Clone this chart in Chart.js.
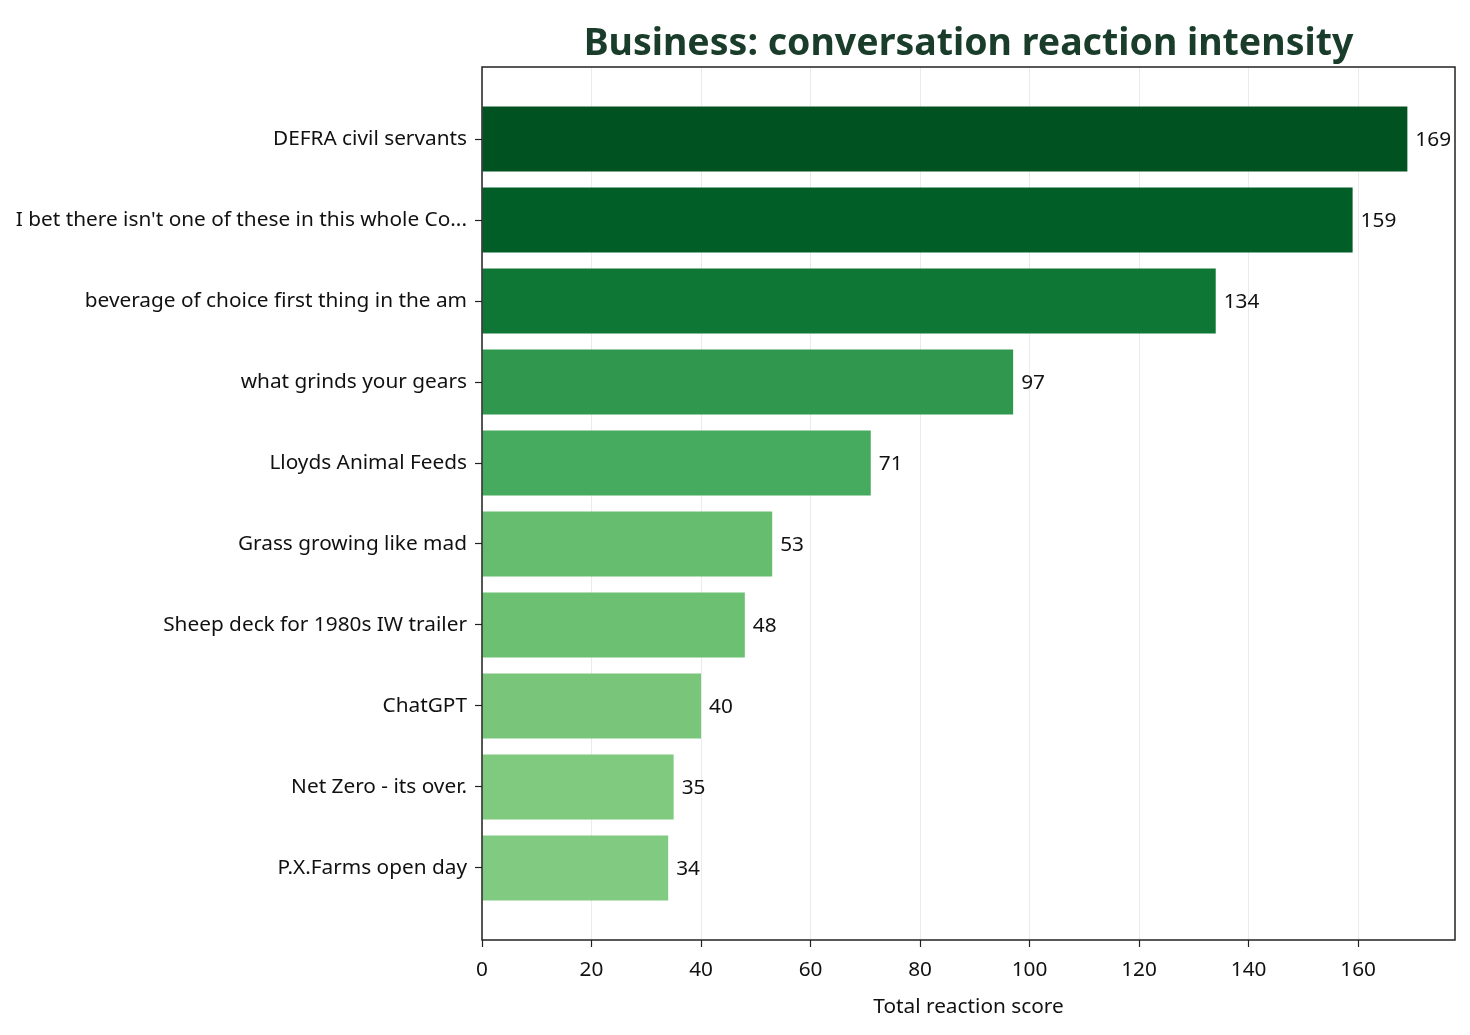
<!DOCTYPE html>
<html>
<head>
<meta charset="utf-8">
<script src="https://cdn.jsdelivr.net/npm/chart.js@4/dist/chart.umd.min.js"></script>
<style>
html,body{margin:0;padding:0;background:#fff;}
canvas{display:block;}
</style>
</head>
<body>
<canvas id="chart" width="1470" height="1035"></canvas>
<script>
const categories = [
  "DEFRA civil servants",
  "I bet there isn't one of these in this whole Co...",
  "beverage of choice first thing in the am",
  "what grinds your gears",
  "Lloyds Animal Feeds",
  "Grass growing like mad",
  "Sheep deck for 1980s IW trailer",
  "ChatGPT",
  "Net Zero - its over.",
  "P.X.Farms open day"
];
const scores = [169, 159, 134, 97, 71, 53, 48, 40, 35, 34];
const barColors = ["#005221", "#005e26", "#0e7735", "#2f974e", "#47ab5f", "#66bd6f", "#6bc072", "#79c67a", "#7fca7f", "#81ca81"];
const xTicks = [0, 20, 40, 60, 80, 100, 120, 140, 160];

const FONT = "'Noto Sans', 'DejaVu Sans', sans-serif";
const TXT = 20.8;

const ctx = document.getElementById("chart").getContext("2d");

// title, value labels, axis label and frame
const extras = {
  id: "extras",
  afterDatasetsDraw(chart){
    const c = chart.ctx;
    const meta = chart.getDatasetMeta(0);
    c.save();
    c.font = TXT + "px " + FONT;
    c.fillStyle = "#111";
    c.textBaseline = "middle";
    c.textAlign = "left";
    meta.data.forEach((bar, i) => {
      c.fillText(String(scores[i]), bar.x + 8, bar.y + 1);
    });
    c.restore();
  },
  afterDraw(chart){
    const c = chart.ctx;
    const a = chart.chartArea;
    c.save();
    c.strokeStyle = "#222";
    c.lineWidth = 1.5;
    c.strokeRect(a.left, a.top, a.right - a.left, a.bottom - a.top);

    c.fillStyle = "#1a3d2b";
    c.font = "bold 37.5px " + FONT;
    c.textAlign = "center";
    c.textBaseline = "middle";
    c.fillText("Business: conversation reaction intensity", (a.left + a.right) / 2, 44);

    c.fillStyle = "#111";
    c.font = TXT + "px " + FONT;
    c.fillText("Total reaction score", (a.left + a.right) / 2, 1007);
    c.restore();
  }
};

new Chart(ctx, {
  type: "bar",
  data: {
    datasets: [{
      data: scores.map((s, i) => ({x: s, y: i})),
      backgroundColor: barColors,
      borderWidth: 0,
      categoryPercentage: 1,
      barPercentage: 0.8
    }]
  },
  options: {
    indexAxis: "y",
    responsive: false,
    devicePixelRatio: 1,
    animation: false,
    layout: {padding: {top: 67, right: 15, left: 0, bottom: 0}},
    plugins: {legend: {display: false}, tooltip: {enabled: false}},
    scales: {
      x: {
        type: "linear",
        min: 0,
        max: 177.7,
        z: 1,
        afterBuildTicks: s => { s.ticks = xTicks.map(v => ({value: v})); },
        afterFit: s => { s.height = 95; },
        grid: {
          color: "rgba(190,190,190,0.3)",
          lineWidth: 1,
          tickColor: "#222",
          tickLength: 7,
          tickWidth: 1.2
        },
        border: {display: false},
        ticks: {font: {family: FONT, size: TXT}, color: "#111", padding: 11, maxRotation: 0}
      },
      y: {
        type: "linear",
        reverse: true,
        offset: false,
        min: -0.889,
        max: 9.889,
        afterBuildTicks: s => { s.ticks = categories.map((c, i) => ({value: i})); },
        afterFit: s => { s.width = 482; },
        grid: {
          offset: false,
          drawOnChartArea: false,
          tickColor: "#222",
          tickLength: 7,
          tickWidth: 1.2
        },
        border: {display: false},
        ticks: {
          font: {family: FONT, size: TXT},
          color: "#111",
          padding: 8,
          autoSkip: false,
          callback: v => categories[v]
        }
      }
    }
  },
  plugins: [extras]
});
</script>
</body>
</html>
